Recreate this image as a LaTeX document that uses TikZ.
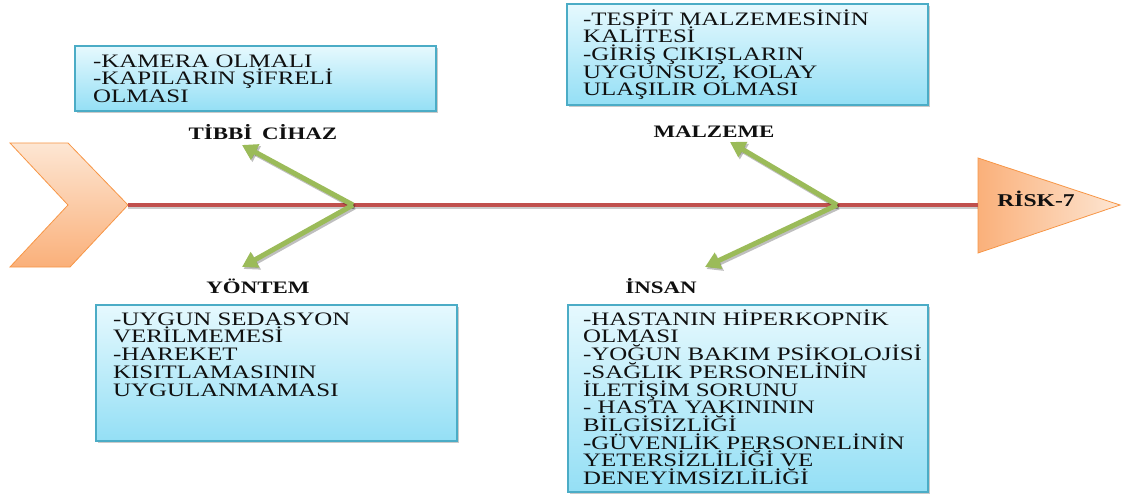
\documentclass[tikz,border=0pt]{standalone}
\usepackage{fontspec}
\setmainfont{Liberation Serif}[FakeStretch=1.31]
\usetikzlibrary{arrows.meta,shadows}
\definecolor{boxborder}{HTML}{4BACC6}
\definecolor{boxtop}{HTML}{E6F9FE}
\definecolor{boxbot}{HTML}{94DFF5}
\definecolor{orgborder}{HTML}{F79646}
\definecolor{orglight}{HTML}{FDE6D3}
\definecolor{orgdark}{HTML}{FAB07A}
\definecolor{spinered}{HTML}{C0504D}
\definecolor{bonegreen}{HTML}{9BBB59}
\definecolor{textcol}{HTML}{101010}
\newcommand\myboxfont{\fontsize{19}{17.7}\selectfont\lineskiplimit=-50pt\relax\lineskip=0pt\relax}
\begin{document}
\begin{tikzpicture}[x=1pt,y=-1pt,
  boxshape/.style={draw=boxborder, line width=1.2pt, top color=boxtop, bottom color=boxbot,
    drop shadow={shadow xshift=1.5pt,shadow yshift=-2pt,opacity=0.35,fill=black!60}},
  boxtext/.style={anchor=north west, inner sep=0pt, align=left, text=textcol,
    font=\myboxfont},
  catlabel/.style={font=\bfseries\fontsize{17.5}{18}\selectfont, text=textcol, anchor=base, inner sep=0pt},
  bone/.style={draw=bonegreen, line width=5pt, -{Triangle[length=15pt,width=17pt]}},
  boneshadow/.style={draw=black, opacity=0.25, line width=5pt, -{Triangle[length=15pt,width=17pt]}},
  spine/.style={draw=spinered, line width=4pt},
  spineshadow/.style={draw=black, opacity=0.2, line width=4pt},
  headshape/.style={draw=orgborder, line width=0.8pt},
]
\useasboundingbox (0,0) rectangle (1123,494);

% tail chevron
\shade[headshape, top color=orglight, bottom color=orgdark]
  (10,143) -- (68,143) -- (128,205) -- (70,267) -- (10,267) -- (68,205) -- cycle;
% head triangle
\shade[headshape, left color=orgdark, right color=orglight]
  (978,158) -- (1120,205) -- (978,253) -- cycle;

% coordinates
\coordinate (tail) at (128,205);
\coordinate (head) at (978,205);
\coordinate (forkL) at (353,205);
\coordinate (forkR) at (837,205);
\coordinate (tipLU) at (242,145);
\coordinate (tipLD) at (242,267);
\coordinate (tipRU) at (730,142);
\coordinate (tipRD) at (705,267);

% spine
\draw[spineshadow] ([yshift=-2.5pt]tail) -- ([yshift=-2.5pt]head);
\draw[spine] (tail) -- (head);

% bones
\draw[boneshadow] ([shift={(1.5,2)}]forkL) -- ([shift={(1.5,2)}]tipLU);
\draw[boneshadow] ([shift={(1.5,2)}]forkL) -- ([shift={(1.5,2)}]tipLD);
\draw[boneshadow] ([shift={(1.5,2)}]forkR) -- ([shift={(1.5,2)}]tipRU);
\draw[boneshadow] ([shift={(1.5,2)}]forkR) -- ([shift={(1.5,2)}]tipRD);
\draw[bone] (forkL) -- (tipLU);
\draw[bone] (forkL) -- (tipLD);
\draw[bone] (forkR) -- (tipRU);
\draw[bone] (forkR) -- (tipRD);

% boxes
\path[boxshape] (75,46) rectangle (436,111);
\path[boxshape] (567,4) rectangle (928,105);
\path[boxshape] (96,305) rectangle (457,441);
\path[boxshape] (568,305) rectangle (928,492);

% box texts
\node[boxtext] (tltext) at (93,51) {\rule{0pt}{16pt}-KAMERA OLMALI\\-KAPILARIN ŞİFRELİ\\OLMASI};
\node[boxtext] (trtext) at (583,9) {\rule{0pt}{16pt}-TESPİT MALZEMESİNİN\\KALİTESİ\\-GİRİŞ ÇIKIŞLARIN\\UYGUNSUZ, KOLAY\\ULAŞILIR OLMASI};
\node[boxtext] (bltext) at (113,309) {\rule{0pt}{16pt}-UYGUN SEDASYON\\VERİLMEMESİ\\-HAREKET\\KISITLAMASININ\\UYGULANMAMASI};
\node[boxtext] (brtext) at (583,309) {\rule{0pt}{16pt}-HASTANIN HİPERKOPNİK\\OLMASI\\-YOĞUN BAKIM PSİKOLOJİSİ\\-SAĞLIK PERSONELİNİN\\İLETİŞİM SORUNU\\- HASTA YAKINININ\\BİLGİSİZLİĞİ\\-GÜVENLİK PERSONELİNİN\\YETERSİZLİLİĞİ VE\\DENEYİMSİZLİLİĞİ};

% category labels
\node[catlabel] (tibbi) at (263,140) {TİBBİ\hspace{4pt} CİHAZ};
\node[catlabel] (malzeme) at (714,138) {MALZEME};
\node[catlabel] (yontem) at (258,293) {YÖNTEM};
\node[catlabel] (insan) at (661,293) {İNSAN};
\node[catlabel, font=\bfseries\fontsize{18}{18}\selectfont] (risk) at (1036,207) {RİSK-7};
\end{tikzpicture}
\end{document}
